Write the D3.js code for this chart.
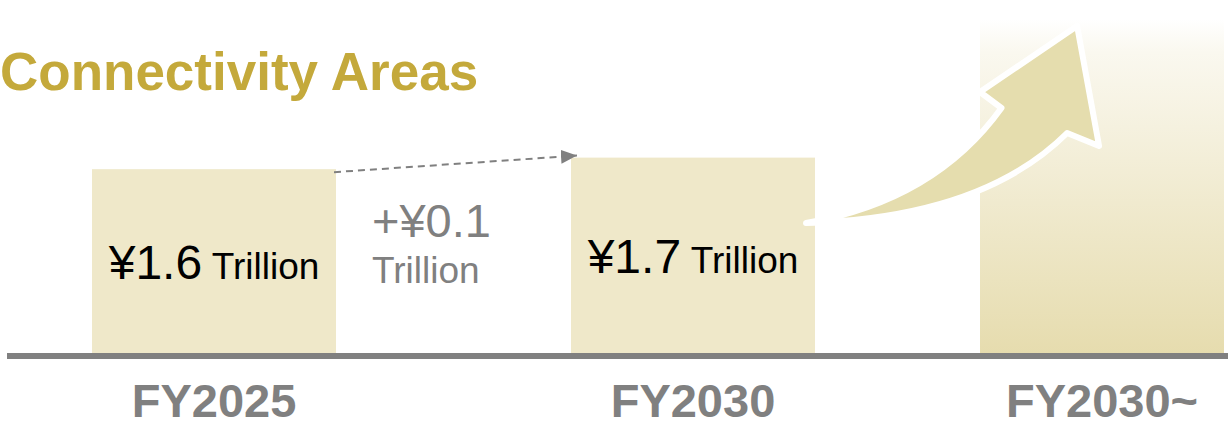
<!DOCTYPE html>
<html>
<head>
<meta charset="utf-8">
<script src="https://cdn.jsdelivr.net/npm/d3@7/dist/d3.min.js"></script>
<style>
  html, body { margin: 0; padding: 0; background: #fff; }
  svg { display: block; font-family: "Liberation Sans", Arial, sans-serif; }
</style>
</head>
<body>
<svg id="chart" width="1228" height="426"></svg>
<script>
// Market size of connectivity areas (trillion yen)
const title = "Connectivity Areas";
const years = ["FY2025", "FY2030"];
const values = [1.6, 1.7];
const outlookLabel = "FY2030~";
const deltaLabel = ["+¥0.1", "Trillion"];
const unit = "Trillion";

const W = 1228, H = 426;
const baseY = 354;
const svg = d3.select("#chart");

const gold = "#c4a93b", barFill = "#efe8c9", arrowFill = "#e5ddae", grey = "#808080";

// Scales: two measured bars and a separate outlook panel on the right
const x = d3.scaleBand().domain(years).range([92, 815]).paddingInner(0.4906).paddingOuter(0);
const xOut = d3.scaleBand().domain([outlookLabel]).range([980, 1224]);
const y = d3.scaleLinear().domain([0, 2.9]).range([baseY, 19]);
const bw = x.bandwidth();

const defs = svg.append("defs");
const grad = defs.append("linearGradient").attr("id", "outlookGrad")
  .attr("x1", 0).attr("y1", 0).attr("x2", 0).attr("y2", 1);
grad.append("stop").attr("offset", "0%").attr("stop-color", "#ffffff");
grad.append("stop").attr("offset", "10%").attr("stop-color", "#faf8ef");
grad.append("stop").attr("offset", "100%").attr("stop-color", "#e6dcae");

defs.append("marker").attr("id", "dashHead")
  .attr("viewBox", "0 0 16 14").attr("refX", 16).attr("refY", 7)
  .attr("markerWidth", 16).attr("markerHeight", 14)
  .attr("markerUnits", "userSpaceOnUse").attr("orient", "auto")
  .append("path").attr("d", "M0,0 L16,7 L0,14 Z").attr("fill", grey);

// Title
svg.append("text").attr("x", 0).attr("y", 90)
  .attr("font-size", 53).attr("font-weight", "bold").attr("fill", gold)
  .text(title);

// Outlook panel
const ox = xOut(outlookLabel), ow = xOut.bandwidth();
svg.append("rect").attr("x", ox).attr("y", y.range()[1])
  .attr("width", ow).attr("height", baseY - y.range()[1])
  .attr("fill", "url(#outlookGrad)");

// Bars
svg.selectAll("rect.bar").data(years).join("rect").attr("class", "bar")
  .attr("x", d => x(d)).attr("y", (d, i) => y(values[i]))
  .attr("width", bw).attr("height", (d, i) => baseY - y(values[i]))
  .attr("fill", barFill);

// Value labels inside bars
const vl = svg.selectAll("text.val").data(years).join("text").attr("class", "val")
  .attr("x", d => x(d) + bw / 2)
  .attr("y", (d, i) => (y(values[i]) + baseY) / 2 + 17.5)
  .attr("text-anchor", "middle").attr("fill", "#000");
vl.append("tspan").attr("font-size", 48).text((d, i) => "¥" + values[i].toFixed(1));
vl.append("tspan").attr("font-size", 37).text(" " + unit);

// Dashed growth arrow between bar tops
const x0 = x(years[0]) + bw - 2, y0 = y(values[0]) + 3;
const x1 = x(years[1]) + 6, y1 = y(values[1]) - 2;
svg.append("line").attr("x1", x0).attr("y1", y0).attr("x2", x1).attr("y2", y1)
  .attr("stroke", grey).attr("stroke-width", 2).attr("stroke-dasharray", "7,5")
  .attr("marker-end", "url(#dashHead)");

// Increase label
const dx = x(years[0]) + bw + 36;
const dl = svg.append("text").attr("fill", grey);
dl.append("tspan").attr("x", dx).attr("y", 237).attr("font-size", 47).text(deltaLabel[0]);
dl.append("tspan").attr("x", dx).attr("y", 283).attr("font-size", 37).text(deltaLabel[1]);

// Upward outlook arrow, laid out relative to the panel box
const tailX = x(years[1]) + bw - 9, tailY = 223;
const px = f => ox + f * ow;
const arrowPath = [
  `M${tailX},${tailY}`,
  `C${px(-0.33)},${tailY - 16} ${px(-0.08)},${165} ${px(0.088)},${108}`,
  `L${px(0.0)},${92}`,
  `L${px(0.398)},${26}`,
  `L${px(0.488)},${146}`,
  `L${px(0.357)},${133}`,
  `C${px(0.164)},${180} ${px(-0.164)},${tailY - 4} ${tailX},${tailY}`,
  "Z"
].join(" ");
svg.append("path").attr("d", arrowPath)
  .attr("fill", arrowFill).attr("stroke", "#fff").attr("stroke-width", 6)
  .attr("stroke-linejoin", "round").attr("stroke-linecap", "round");

// Baseline
svg.append("rect").attr("x", 7).attr("y", 353).attr("width", W - 7).attr("height", 6).attr("fill", grey);

// Category labels
const cats = years.map(d => ({ label: d, cx: x(d) + bw / 2 }))
  .concat([{ label: outlookLabel, cx: ox + ow / 2 }]);
svg.selectAll("text.cat").data(cats).join("text").attr("class", "cat")
  .attr("x", d => d.cx).attr("y", 417)
  .attr("text-anchor", "middle").attr("font-size", 47).attr("font-weight", "bold")
  .attr("fill", grey).text(d => d.label);
</script>
</body>
</html>
